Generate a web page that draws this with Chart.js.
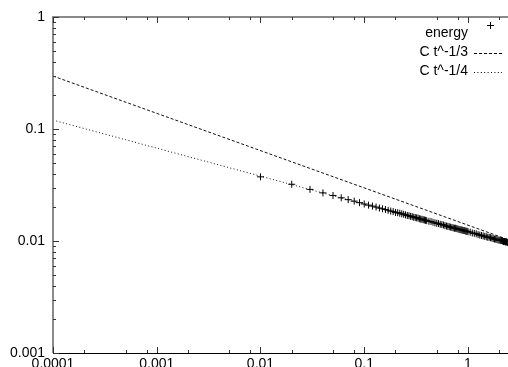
<!DOCTYPE html>
<html>
<head>
<meta charset="utf-8">
<script src="https://cdn.jsdelivr.net/npm/chart.js@4.4.1/dist/chart.umd.min.js"></script>
<style>
  html, body { margin: 0; padding: 0; background: #fff; overflow: hidden; }
  #wrap { width: 508px; height: 367px; position: relative; }
</style>
</head>
<body>
<div id="wrap"><canvas id="chart"></canvas></div>
<script>
// energy(t)
const energyT = [0.01, 0.02, 0.03, 0.04, 0.05, 0.06, 0.07, 0.08, 0.09, 0.10,
  0.11, 0.12, 0.13, 0.14, 0.15, 0.16, 0.17, 0.18, 0.19, 0.20,
  0.21, 0.22, 0.23, 0.24, 0.25, 0.26, 0.27, 0.28, 0.29, 0.30,
  0.31, 0.32, 0.33, 0.34, 0.35, 0.36, 0.37, 0.38, 0.39, 0.40,
  0.42, 0.44, 0.46, 0.48, 0.50, 0.52, 0.54, 0.56, 0.58, 0.60,
  0.62, 0.64, 0.66, 0.68, 0.70, 0.72, 0.74, 0.76, 0.78, 0.80,
  0.82, 0.84, 0.86, 0.88, 0.90, 0.92, 0.94, 0.96, 0.98, 1.00,
  1.05, 1.10, 1.15, 1.20, 1.25, 1.30, 1.35, 1.40, 1.45, 1.50,
  1.55, 1.60, 1.65, 1.70, 1.75, 1.80, 1.85, 1.90, 1.95, 2.00,
  2.05, 2.10, 2.15, 2.20, 2.25, 2.30, 2.35, 2.40];
const energyE = [0.0374, 0.0321, 0.0289, 0.0269, 0.0255, 0.0243, 0.0234, 0.0227, 0.0220, 0.0214,
  0.0209, 0.0205, 0.0201, 0.0197, 0.0194, 0.0191, 0.0188, 0.0185, 0.0183, 0.0180,
  0.0179, 0.0177, 0.0175, 0.0173, 0.0171, 0.0169, 0.0168, 0.0166, 0.0165, 0.0163,
  0.0162, 0.0161, 0.0160, 0.0158, 0.0157, 0.0156, 0.0155, 0.0154, 0.0153, 0.0152,
  0.0150, 0.0149, 0.0147, 0.0145, 0.0144, 0.0143, 0.0141, 0.0140, 0.0139, 0.0137,
  0.0136, 0.0135, 0.0134, 0.0133, 0.0132, 0.0131, 0.0130, 0.0130, 0.0129, 0.0128,
  0.0127, 0.0126, 0.0126, 0.0125, 0.0124, 0.0124, 0.0123, 0.0122, 0.0122, 0.0121,
  0.0120, 0.0118, 0.0117, 0.0116, 0.0114, 0.0113, 0.0112, 0.0111, 0.0110, 0.0109,
  0.0108, 0.0108, 0.0107, 0.0106, 0.0105, 0.0104, 0.0104, 0.0103, 0.0102, 0.0102,
  0.0101, 0.0101, 0.0100, 0.0099, 0.0099, 0.0098, 0.0098, 0.0097];

// fitted power laws, end points only (straight lines on log-log)
const fitT = [0.0001, 2.43];
const fitThird = [0.297, 0.0103];
const fitQuarter = [0.120, 0.0096];

const legendLabels = ["energy", "C t^-1/3", "C t^-1/4"];

const xMajor = [0.0001, 0.001, 0.01, 0.1, 1];
const yMajor = [0.001, 0.01, 0.1, 1];
const xMinorMult = [2, 5, 8];
const yMinorMult = [2, 3, 4, 5, 6, 7, 8, 9];

const FONT = "Liberation Sans, Arial, Helvetica, sans-serif";

function pts(xs, ys) {
  return xs.map((x, i) => ({ x: x, y: ys[i] }));
}

// gnuplot style frame: inward ticks + legend at top right
const framePlugin = {
  id: "frame",
  afterDatasetsDraw(chart) {
    const ctx = chart.ctx;
    const a = chart.chartArea;
    const xs = chart.scales.x;
    const ys = chart.scales.y;
    ctx.save();

    // frame lines
    ctx.strokeStyle = "#8a8a8a";
    ctx.lineWidth = 2;
    ctx.beginPath();
    ctx.moveTo(a.left, a.bottom);
    ctx.lineTo(a.left, a.top);
    ctx.lineTo(a.right, a.top);
    ctx.stroke();
    ctx.strokeStyle = "#000";
    ctx.lineWidth = 1;
    ctx.beginPath();
    ctx.moveTo(a.left, a.bottom + 0.5);
    ctx.lineTo(a.right, a.bottom + 0.5);
    ctx.stroke();

    // ticks
    ctx.strokeStyle = "#333";
    ctx.lineWidth = 1;
    ctx.beginPath();
    const xTick = (v, len) => {
      const p = Math.round(xs.getPixelForValue(v)) + 0.5;
      if (p < a.left || p > a.right) return;
      ctx.moveTo(p, a.bottom); ctx.lineTo(p, a.bottom - len);
      ctx.moveTo(p, a.top); ctx.lineTo(p, a.top + len);
    };
    const yTick = (v, len) => {
      const p = Math.round(ys.getPixelForValue(v)) + 0.5;
      if (p < a.top - 1 || p > a.bottom + 1) return;
      ctx.moveTo(a.left, p); ctx.lineTo(a.left + len, p);
    };
    xMajor.forEach(d => {
      xTick(d, 6);
      xMinorMult.forEach(m => xTick(d * m, 3));
    });
    yMajor.forEach(d => {
      yTick(d, 6);
      if (d < 1) yMinorMult.forEach(m => yTick(d * m, 3));
    });
    ctx.stroke();

    // legend
    ctx.font = "14px " + FONT;
    ctx.fillStyle = "#000";
    ctx.textAlign = "right";
    ctx.textBaseline = "middle";
    const rows = [33, 52, 71];
    legendLabels.forEach((t, i) => ctx.fillText(t, 468, rows[i]));
    ctx.strokeStyle = "#000";
    ctx.beginPath();
    ctx.moveTo(487, 25.5); ctx.lineTo(494, 25.5);
    ctx.moveTo(490.5, 22); ctx.lineTo(490.5, 29);
    ctx.stroke();
    ctx.setLineDash([3, 2]);
    ctx.beginPath();
    ctx.moveTo(474, 53.5); ctx.lineTo(502, 53.5);
    ctx.stroke();
    ctx.setLineDash([1, 2.4]);
    ctx.beginPath();
    ctx.moveTo(474, 72.5); ctx.lineTo(502, 72.5);
    ctx.stroke();
    ctx.restore();
  }
};

new Chart(document.getElementById("chart"), {
  type: "scatter",
  data: {
    datasets: [
      {
        label: legendLabels[0],
        data: pts(energyT, energyE),
        pointStyle: "cross",
        pointRadius: 3.5,
        borderColor: "#000",
        backgroundColor: "#000",
        borderWidth: 1,
        showLine: false
      },
      {
        label: legendLabels[1],
        type: "line",
        data: pts(fitT, fitThird),
        borderColor: "#111",
        borderWidth: 1,
        borderDash: [3, 2],
        pointRadius: 0,
        fill: false
      },
      {
        label: legendLabels[2],
        type: "line",
        data: pts(fitT, fitQuarter),
        borderColor: "#111",
        borderWidth: 1,
        borderDash: [1, 2.4],
        pointRadius: 0,
        fill: false
      }
    ]
  },
  options: {
    responsive: true,
    maintainAspectRatio: false,
    animation: false,
    layout: { autoPadding: false, padding: { top: 17, right: 0, bottom: 0, left: 0 } },
    plugins: { legend: { display: false }, tooltip: { enabled: false } },
    scales: {
      x: {
        type: "logarithmic",
        min: 0.0001,
        max: 2.43,
        grid: { display: false, drawTicks: false },
        border: { display: false },
        afterBuildTicks: s => { s.ticks = xMajor.map(v => ({ value: v })); },
        afterFit: s => { s.height = 14; s.paddingLeft = 0; s.paddingRight = 0; },
        ticks: {
          autoSkip: false,
          maxRotation: 0,
          padding: 3,
          color: "#000",
          font: { family: FONT, size: 14 },
          callback: v => String(v)
        }
      },
      y: {
        type: "logarithmic",
        min: 0.001,
        max: 1,
        grid: { display: false, drawTicks: false },
        border: { display: false },
        afterBuildTicks: s => { s.ticks = yMajor.map(v => ({ value: v })); },
        afterFit: s => { s.width = 53; s.paddingTop = 0; s.paddingBottom = 0; },
        ticks: {
          autoSkip: false,
          padding: 8,
          color: "#000",
          font: { family: FONT, size: 14 },
          callback: v => String(v)
        }
      }
    }
  },
  plugins: [framePlugin]
});
</script>
</body>
</html>
